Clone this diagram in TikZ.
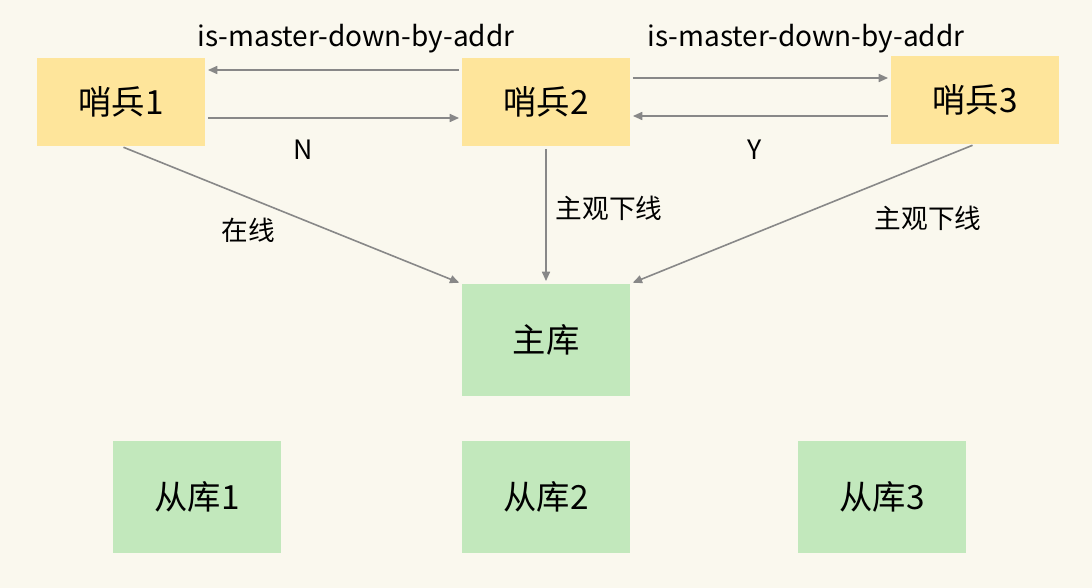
\documentclass[tikz,border=0pt]{standalone}
\usepackage{fontspec}
\setmainfont{Noto Sans CJK SC}
\usepackage{xcolor}
\usetikzlibrary{arrows.meta,positioning,calc}
\definecolor{bgcream}{HTML}{FAF8EE}
\definecolor{sentyellow}{HTML}{FEE59B}
\definecolor{dbgreen}{HTML}{C2E8BC}
\definecolor{arrgray}{HTML}{888888}

\begin{document}
\begin{tikzpicture}[x=0.75pt,y=-0.75pt,
  sent/.style={fill=sentyellow,minimum width=126pt,minimum height=66pt,inner sep=0pt,font=\fontsize{25}{28}\selectfont},
  db/.style={fill=dbgreen,minimum width=126pt,minimum height=84pt,inner sep=0pt,font=\fontsize{25}{28}\selectfont},
  lbl/.style={font=\fontsize{20}{23}\selectfont,inner sep=1pt},
  arr/.style={-{Triangle[length=7pt,width=6pt]},arrgray,line width=1.2pt,shorten <=2pt,shorten >=2pt}]
\fill[bgcream] (0,0) rectangle (1092,588);
\useasboundingbox (0,0) rectangle (1092,588);
\node[sent] (s1) at (121,102) {哨兵1};
\node[sent] (s2) at (546,102) {哨兵2};
\node[sent] (s3) at (975,100) {哨兵3};
\node[db] (m) at (546,340) {主库};
\node[db] (r1) at (197,497) {从库1};
\node[db] (r2) at (546,497) {从库2};
\node[db] (r3) at (882,497) {从库3};
% sentinel messages
\draw[arr] ([yshift=24pt]s2.west) -- ([yshift=24pt]s2.west -| s1.east);
\draw[arr] ([yshift=-12pt]s1.east) -- ([yshift=-12pt]s1.east -| s2.west);
\draw[arr] ([yshift=18pt]s2.east) -- ([yshift=18pt]s2.east -| s3.west);
\draw[arr] ([yshift=-10.5pt]s2.east -| s3.west) -- ([yshift=-10.5pt]s2.east);
\node[lbl,font=\fontsize{21}{24}\selectfont] (q1) at (356,39) {is-master-down-by-addr};
\node[lbl,font=\fontsize{21}{24}\selectfont] (q2) at (806,39) {is-master-down-by-addr};
\node[lbl] (n) at (303,150) {N};
\node[lbl] (y) at (755,150) {Y};
% votes to master
\draw[arr] (s1.south) -- (m.north west);
\draw[arr] (s2.south) -- (m.north);
\draw[arr] (s3.south) -- (m.north east);
\node[lbl] (on) at (248,230) {在线};
\node[lbl] (sd2) at (609,208) {主观下线};
\node[lbl] (sd3) at (928,218) {主观下线};
\end{tikzpicture}
\end{document}
